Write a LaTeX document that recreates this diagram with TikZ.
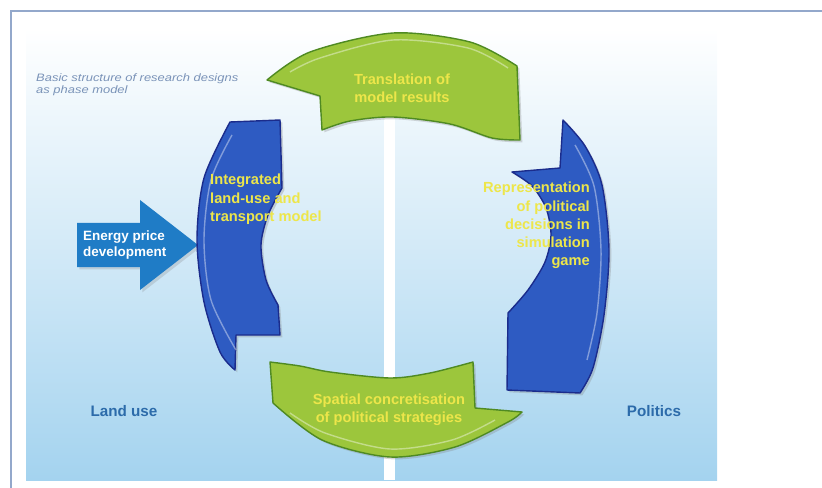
\documentclass[tikz,border=0pt]{standalone}
\usepackage{fontspec}
\setmainfont{Liberation Sans}
\newfontfamily\notefont[FakeStretch=1.2]{Liberation Sans}
\usetikzlibrary{shadows}

\definecolor{ringblue}{HTML}{2E5BC2}
\definecolor{ringnavy}{HTML}{1B2C8C}
\definecolor{leafgreen}{HTML}{9CC63C}
\definecolor{leafdark}{HTML}{4F8A22}
\definecolor{labelyellow}{HTML}{EDE64A}
\definecolor{energyblue}{HTML}{1F7CC6}
\definecolor{sideblue}{HTML}{2C6BAA}
\definecolor{notegray}{HTML}{7A93B8}
\definecolor{framegray}{HTML}{93A8CB}
\definecolor{skymid}{HTML}{D6EAF7}
\definecolor{skyblue}{HTML}{A4D3EF}

\begin{document}
\begin{tikzpicture}[x=0.03cm, y=-0.03cm,
    bluepart/.style={fill=ringblue, draw=ringnavy, line width=1.2pt, line join=round,
      drop shadow={opacity=0.3, shadow xshift=2pt, shadow yshift=-2pt}},
    greenpart/.style={fill=leafgreen, draw=leafdark, line width=1.2pt, line join=round,
      drop shadow={opacity=0.3, shadow xshift=2pt, shadow yshift=-2pt}},
    sheen/.style={white, opacity=0.4, line width=1.2pt},
    partlabel/.style={text=labelyellow, font=\bfseries\fontsize{12.5}{15.5}\selectfont, inner sep=0pt},
    sidelabel/.style={text=sideblue, font=\bfseries\fontsize{13}{15}\selectfont}]
  \useasboundingbox (0,0) rectangle (822,488);

  % background and frame
  \fill[top color=white, middle color=skymid, bottom color=skyblue] (26,28) rectangle (717,480);
  \fill[white] (384,115) rectangle (395,480);
  \draw[framegray, line width=1.6pt] (822,11) -- (11,11) -- (11,488);

  % input arrow
  \coordinate (E1) at (77,223);
  \coordinate (E2) at (140,223);
  \coordinate (E3) at (140,200);
  \coordinate (Etip) at (198,245);
  \coordinate (E4) at (140,290);
  \coordinate (E5) at (140,267);
  \coordinate (E6) at (77,267);
  \fill[energyblue, drop shadow={opacity=0.25, shadow xshift=2pt, shadow yshift=-2pt}]
    (E1) -- (E2) -- (E3) -- (Etip) -- (E4) -- (E5) -- (E6) -- cycle;

  % top: translation (points left)
  \draw[greenpart] plot[smooth] coordinates {(267,80) (310,52) (393,33) (470,42) (517,66)}
    -- (520,140) -- plot[smooth] coordinates {(520,140) (492,138) (450,124) (393,117) (350,121) (322,130)}
    -- (320,96) -- cycle;
  \draw[sheen] plot[smooth] coordinates {(290,72) (320,58) (393,40) (468,48) (508,68)};

  % left: land-use model (points down)
  \draw[bluepart] plot[smooth] coordinates {(235,370) (220,352) (204,302) (197,240) (204,178) (230,122)}
    -- (280,120) -- (282,188) -- plot[smooth] coordinates {(282,188) (268,215) (261,245) (266,280) (278,305)}
    -- (280,335) -- (236,335) -- cycle;
  \draw[sheen] plot[smooth] coordinates {(236,350) (211,300) (204,240) (211,180) (232,135)};

  % right: simulation game (points up)
  \draw[bluepart] plot[smooth] coordinates {(563,120) (585,146) (602,185) (609,250) (604,315) (593,368) (580,393)}
    -- (507,390) -- (508,313) -- plot[smooth] coordinates {(508,313) (528,290) (545,262) (551,235) (546,208) (532,186) (512,172)}
    -- (560,168) -- cycle;
  \draw[sheen] plot[smooth] coordinates {(575,145) (594,186) (601,250) (597,313) (587,360)};

  % bottom: spatial concretisation (points right)
  \draw[greenpart] plot[smooth] coordinates {(270,362) (300,366) (330,372) (390,378) (430,373) (473,362)}
    -- (475,408) -- (522,412) -- plot[smooth] coordinates {(522,412) (508,422) (455,447) (390,457) (322,440) (273,403)}
    -- cycle;
  \draw[sheen] plot[smooth] coordinates {(290,413) (325,433) (390,449) (452,440) (495,420)};

  % labels
  \node[partlabel, align=center] (translation) at (402,88) {Translation of\\model results};
  \node[partlabel, align=left, anchor=north west] (landmodel) at (210,174) {Integrated\\land-use and\\transport model};
  \node[partlabel, align=right, anchor=north east] (representation) at (590,182)
    {Representation\\of political\\decisions in\\simulation\\game};
  \node[partlabel, align=center] (concretisation) at (389,410) {Spatial concretisation\\of political strategies};
  \node[text=white, font=\bfseries\fontsize{11.5}{13.6}\selectfont, align=left, anchor=west, inner sep=0pt]
    (energy) at (83,245) {Energy price\\development};
  \node[sidelabel] (landuse) at (124,411) {Land use};
  \node[sidelabel] (politics) at (654,411) {Politics};
  \node[text=notegray, font=\notefont\itshape\fontsize{9.2}{11}\selectfont, align=left, anchor=north west, inner sep=0pt]
    (note) at (36,73) {Basic structure of research designs\\as phase model};
\end{tikzpicture}
\end{document}
